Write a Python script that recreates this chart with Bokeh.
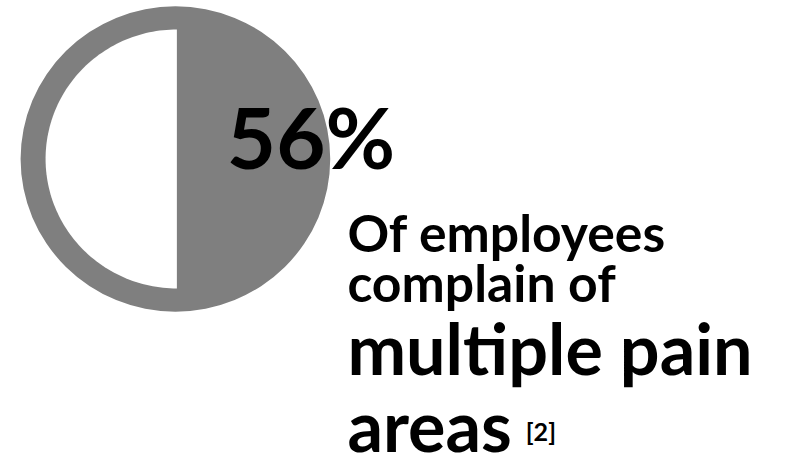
import numpy as np
from bokeh.plotting import figure
from bokeh.models import Range1d
from bokeh.core.properties import value
from bokeh.embed import file_html
from bokeh.resources import INLINE

# ---- data ----
stat_label = "56%"
caption_lines = ["Of employees", "complain of", "multiple pain", "areas"]
citation = "[2]"
ring_segments = ["filled", "open"]
ring_shares = [50, 50]          # visual split of the disc (right filled, left open)

# ---- styling / layout (reference-pixel coordinates) ----
GRAY = "#7f7f7f"
FONT = value("Lato")
W, H = 780, 458
REF_W, REF_H = 796, 474
SY = H / REF_H
BASE_SHIFT = 0.40   # empirical correction for alphabetic baseline placement

p = figure(width=W, height=H, x_range=Range1d(0, REF_W), y_range=Range1d(REF_H, 0),
           min_border=0, output_backend="svg", toolbar_location=None)
p.axis.visible = False
p.grid.visible = False
p.outline_line_color = None
p.background_fill_color = "white"
p.border_fill_color = "white"

# outer disc
cx, cy, r_out, r_in = 178.5, 164, 158, 134
p.ellipse(x=[cx], y=[cy], width=2 * r_out, height=2 * r_out,
          fill_color=GRAY, line_color=None)

# open (white) part of disc
total = sum(ring_shares)
open_frac = ring_shares[ring_segments.index("open")] / total
ang = np.linspace(np.pi / 2, np.pi / 2 + open_frac * 2 * np.pi, 120)
ix = 180 + r_in * np.cos(ang)
iy = cy - r_in * np.sin(ang)
p.patch(x=list(ix), y=list(iy), fill_color="white", line_color=None)


def put(txt, x, baseline, ref_size):
    scr = ref_size * SY
    y = baseline - BASE_SHIFT * scr / SY
    p.text(x=[x], y=[y], text=[txt], text_font=FONT, text_font_style="bold",
           text_font_size=f"{scr:.1f}px", text_color="black",
           text_baseline="alphabetic")


put(stat_label, 231, 175, 88)
cap_base = [261, 313, 389, 468]
cap_size = [53.5, 53.5, 72.5, 72.5]
for t, b, s in zip(caption_lines, cap_base, cap_size):
    put(t, 354, b, s)
put(citation, 536, 456, 26)

open("out.html", "w").write(file_html(p, INLINE))
